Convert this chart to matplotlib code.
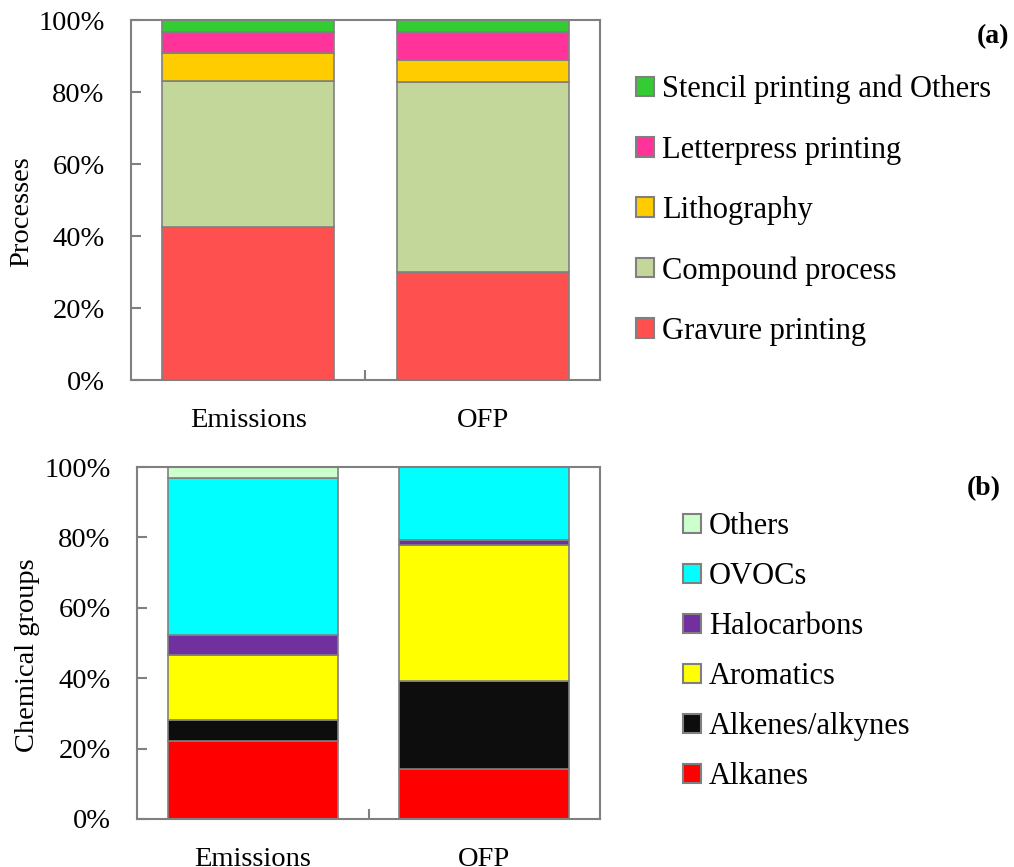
import matplotlib
matplotlib.use("Agg")
import matplotlib.pyplot as plt
import numpy as np
from matplotlib.patches import Patch

plt.rcParams['font.family'] = ['Liberation Serif', 'DejaVu Serif']

categories = ["Emissions", "OFP"]

# (a) share of each printing process (%)
process_names = ["Gravure printing", "Compound process", "Lithography",
                 "Letterpress printing", "Stencil printing and Others"]
gravure = [42.4, 29.9]
compound = [40.7, 52.8]
lithography = [7.8, 6.1]
letterpress = [5.9, 7.8]
stencil = [3.2, 3.4]
process_colors = ["#FF5050", "#C4D79B", "#FFCC00", "#FF3399", "#33CC33"]

# (b) share of each chemical group (%)
group_names = ["Alkanes", "Alkenes/alkynes", "Aromatics", "Halocarbons",
               "OVOCs", "Others"]
alkanes = [22.2, 14.2]
alkenes = [5.9, 25.1]
aromatics = [18.4, 38.5]
halocarbons = [5.7, 1.5]
ovocs = [44.6, 20.7]
others = [3.2, 0.0]
group_colors = ["#FF0000", "#0D0D0D", "#FFFF00", "#7030A0", "#00FFFF", "#CCFFCC"]

W, H = 1014, 867
fig = plt.figure(figsize=(W / 100, H / 100), dpi=100)

ax_a = fig.add_axes([131 / W, 1 - 380 / H, 469 / W, 360 / H])
ax_b = fig.add_axes([137 / W, 1 - 819 / H, 463 / W, 352 / H])

edge = "#808080"
tick_fs = 20.5


def stacked(ax, series, colors, names):
    x = np.arange(len(categories))
    bottom = np.zeros(len(categories))
    handles = []
    for vals, c, n in zip(series, colors, names):
        v = np.array(vals, dtype=float)
        ax.bar(x, v, width=0.735, bottom=bottom, color=c, edgecolor=edge,
               linewidth=1.2, zorder=2)
        bottom += v
        handles.append(Patch(facecolor=c, edgecolor=edge, linewidth=1.5, label=n))
    ax.set_xlim(-0.5, 1.5)
    ax.set_ylim(0, 100)
    ax.set_yticks([0, 20, 40, 60, 80, 100])
    ax.set_yticklabels([f"{v}%" for v in [0, 20, 40, 60, 80, 100]])
    ax.set_xticks([0.5])
    ax.set_xticklabels([])
    ax.set_xticks(x, minor=True)
    ax.set_xticklabels(categories, minor=True)
    ax.tick_params(axis="x", which="minor", length=0, pad=20, labelsize=tick_fs)
    ax.tick_params(axis="x", which="major", direction="in", length=7,
                   width=1.5, color=edge)
    ax.tick_params(axis="y", direction="in", length=7, width=1.5, color=edge,
                   pad=19, labelsize=tick_fs)
    for s in ax.spines.values():
        s.set_edgecolor(edge)
        s.set_linewidth(1.5)
        s.set_zorder(3)
    return handles


h_a = stacked(ax_a, [gravure, compound, lithography, letterpress, stencil],
              process_colors, process_names)
h_b = stacked(ax_b, [alkanes, alkenes, aromatics, halocarbons, ovocs, others],
              group_colors, group_names)

fig.text(22 / W, 1 - 212 / H, "Processes", rotation=90, ha="center",
         va="center", fontsize=20.5)
fig.text(28 / W, 1 - 655 / H, "Chemical groups", rotation=90, ha="center",
         va="center", fontsize=20.5)

fig.text(993 / W, 1 - 37 / H, "(a)", ha="center", va="center",
         fontsize=20, fontweight="bold")
fig.text(984 / W, 1 - 489 / H, "(b)", ha="center", va="center",
         fontsize=20, fontweight="bold")

leg_a = fig.legend(handles=h_a[::-1], loc="upper left",
                   bbox_to_anchor=(636 / W, 1 - 75 / H), frameon=False,
                   fontsize=22, handlelength=0.6, handleheight=0.6,
                   handletextpad=0.25, labelspacing=1.02, borderaxespad=0,
                   borderpad=0)
leg_b = fig.legend(handles=h_b[::-1], loc="upper left",
                   bbox_to_anchor=(683 / W, 1 - 512 / H), frameon=False,
                   fontsize=22, handlelength=0.6, handleheight=0.6,
                   handletextpad=0.25, labelspacing=0.69, borderaxespad=0,
                   borderpad=0)

fig.savefig("out.png", dpi=100)
